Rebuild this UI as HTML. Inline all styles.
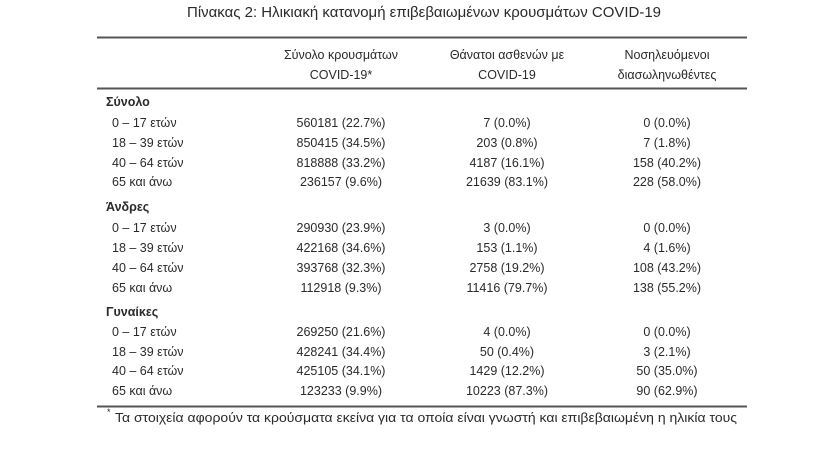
<!DOCTYPE html>
<html><head><meta charset="utf-8"><style>
html,body{margin:0;padding:0;background:#fff;}
svg{display:block}
text{font-family:"Liberation Sans","DejaVu Sans",sans-serif;fill:#2a2a2a;font-size:12.5px}
.b{font-weight:bold}
.c{text-anchor:middle}
</style></head><body>
<svg width="840" height="454" viewBox="0 0 840 454">
<text x="187" y="17" font-size="14.5" textLength="474" lengthAdjust="spacingAndGlyphs" style="font-size:14.5px">Πίνακας 2: Ηλικιακή κατανομή επιβεβαιωμένων κρουσμάτων COVID-19</text>
<line x1="97" y1="37.5" x2="747" y2="37.5" stroke="#555" stroke-width="2"/>
<line x1="97" y1="88.5" x2="747" y2="88.5" stroke="#555" stroke-width="2"/>
<line x1="97" y1="406.5" x2="747" y2="406.5" stroke="#555" stroke-width="2"/>
<g class="c">
<text class="c" x="341" y="59">Σύνολο κρουσμάτων</text>
<text class="c" x="341" y="79">COVID-19*</text>
<text class="c" x="507" y="59">Θάνατοι ασθενών με</text>
<text class="c" x="507" y="79">COVID-19</text>
<text class="c" x="667" y="59">Νοσηλευόμενοι</text>
<text class="c" x="667" y="79">διασωληνωθέντες</text>
</g>
<text class="b" x="106" y="106">Σύνολο</text>
<text x="112" y="127">0 – 17 ετών</text>
<text x="112" y="147">18 – 39 ετών</text>
<text x="112" y="167">40 – 64 ετών</text>
<text x="112" y="186">65 και άνω</text>
<text class="c" x="341" y="127">560181 (22.7%)</text>
<text class="c" x="341" y="147">850415 (34.5%)</text>
<text class="c" x="341" y="167">818888 (33.2%)</text>
<text class="c" x="341" y="186">236157 (9.6%)</text>
<text class="c" x="507" y="127">7 (0.0%)</text>
<text class="c" x="507" y="147">203 (0.8%)</text>
<text class="c" x="507" y="167">4187 (16.1%)</text>
<text class="c" x="507" y="186">21639 (83.1%)</text>
<text class="c" x="667" y="127">0 (0.0%)</text>
<text class="c" x="667" y="147">7 (1.8%)</text>
<text class="c" x="667" y="167">158 (40.2%)</text>
<text class="c" x="667" y="186">228 (58.0%)</text>

<text class="b" x="106" y="211">Άνδρες</text>
<text x="112" y="232">0 – 17 ετών</text>
<text x="112" y="252">18 – 39 ετών</text>
<text x="112" y="272">40 – 64 ετών</text>
<text x="112" y="292">65 και άνω</text>
<text class="c" x="341" y="232">290930 (23.9%)</text>
<text class="c" x="341" y="252">422168 (34.6%)</text>
<text class="c" x="341" y="272">393768 (32.3%)</text>
<text class="c" x="341" y="292">112918 (9.3%)</text>
<text class="c" x="507" y="232">3 (0.0%)</text>
<text class="c" x="507" y="252">153 (1.1%)</text>
<text class="c" x="507" y="272">2758 (19.2%)</text>
<text class="c" x="507" y="292">11416 (79.7%)</text>
<text class="c" x="667" y="232">0 (0.0%)</text>
<text class="c" x="667" y="252">4 (1.6%)</text>
<text class="c" x="667" y="272">108 (43.2%)</text>
<text class="c" x="667" y="292">138 (55.2%)</text>

<text class="b" x="106" y="316">Γυναίκες</text>
<text x="112" y="336">0 – 17 ετών</text>
<text x="112" y="356">18 – 39 ετών</text>
<text x="112" y="375">40 – 64 ετών</text>
<text x="112" y="395">65 και άνω</text>
<text class="c" x="341" y="336">269250 (21.6%)</text>
<text class="c" x="341" y="356">428241 (34.4%)</text>
<text class="c" x="341" y="375">425105 (34.1%)</text>
<text class="c" x="341" y="395">123233 (9.9%)</text>
<text class="c" x="507" y="336">4 (0.0%)</text>
<text class="c" x="507" y="356">50 (0.4%)</text>
<text class="c" x="507" y="375">1429 (12.2%)</text>
<text class="c" x="507" y="395">10223 (87.3%)</text>
<text class="c" x="667" y="336">0 (0.0%)</text>
<text class="c" x="667" y="356">3 (2.1%)</text>
<text class="c" x="667" y="375">50 (35.0%)</text>
<text class="c" x="667" y="395">90 (62.9%)</text>

<text x="107" y="415" style="font-size:9px">*</text>
<text x="115" y="422" textLength="622" lengthAdjust="spacingAndGlyphs">Τα στοιχεία αφορούν τα κρούσματα εκείνα για τα οποία είναι γνωστή και επιβεβαιωμένη η ηλικία τους</text>
</svg>
</body></html>
